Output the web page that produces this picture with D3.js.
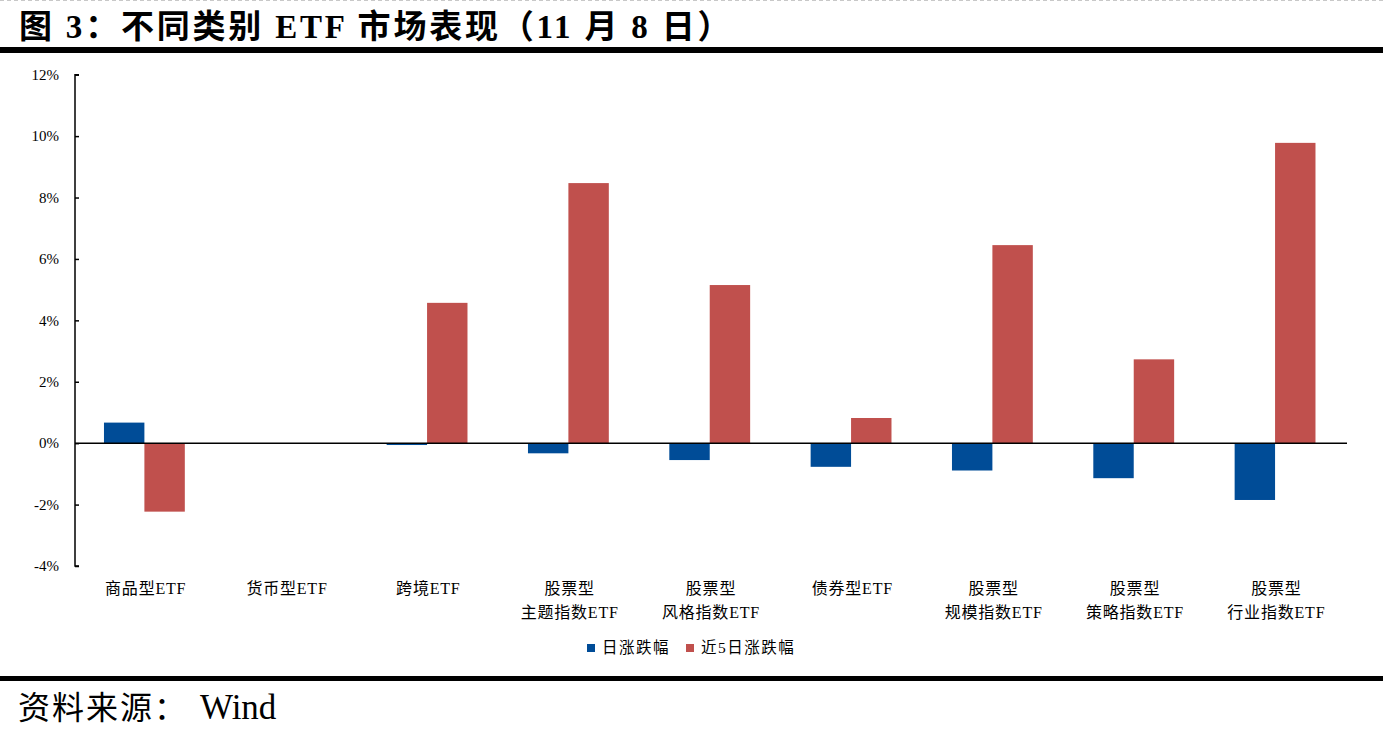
<!DOCTYPE html>
<html><head><meta charset="utf-8">
<script src="https://cdn.jsdelivr.net/npm/d3@7/dist/d3.min.js"></script>
<style>
html,body{margin:0;padding:0;background:#fff;}
svg{display:block;}
</style></head>
<body><svg id="c" width="1383" height="730"></svg>
<script>
const categories = [
  ["商品型ETF"], ["货币型ETF"], ["跨境ETF"],
  ["股票型","主题指数ETF"], ["股票型","风格指数ETF"], ["债券型ETF"],
  ["股票型","规模指数ETF"], ["股票型","策略指数ETF"], ["股票型","行业指数ETF"]
];
const seriesNames = ["日涨跌幅", "近5日涨跌幅"];
const dailyChange = [0.67, 0.0, -0.06, -0.33, -0.55, -0.77, -0.89, -1.14, -1.85];
const fiveDayChange = [-2.23, 0.0, 4.57, 8.47, 5.15, 0.82, 6.45, 2.73, 9.78];
const yTicks = [-4, -2, 0, 2, 4, 6, 8, 10, 12];
const colors = ["#004C97", "#C0504D"];

(function(){
const svg = d3.select("#c");
const pl = 75, pr = 1347, pt = 74.7, pb = 566;
const keys = categories.map((c, i) => i);
const ff = "'Liberation Serif','Noto Sans CJK SC',serif";

const x0 = d3.scaleBand().domain(keys).range([pl, pr]).paddingInner(0).paddingOuter(0);
const bw = x0.bandwidth();
const x1 = d3.scaleBand().domain([0, 1]).range([bw * 0.205, bw * 0.777]);
const y = d3.scaleLinear().domain([-4, 12]).range([pb, pt]);

svg.append("line").attr("x1", 0).attr("x2", 1383).attr("y1", 0.5).attr("y2", 0.5)
  .attr("stroke", "#c8c8c8").attr("stroke-dasharray", "4,3");

svg.append("text").attr("x", 19).attr("y", 38)
  .attr("font-family", ff)
  .attr("font-weight", "bold").attr("font-size", 33).attr("fill", "#000")
  .attr("letter-spacing", 2.8)
  .text("图 3：不同类别 ETF 市场表现（11 月 8 日）");
svg.append("rect").attr("x", 0).attr("y", 47).attr("width", 1383).attr("height", 6).attr("fill", "#000");

const data = keys.map(i => [dailyChange[i], fiveDayChange[i]]);
const g = svg.append("g");
g.selectAll("g.cat").data(data).join("g").attr("class", "cat")
  .attr("transform", (d, i) => `translate(${x0(i)},0)`)
  .selectAll("rect").data(d => d.map((v, s) => ({v, s}))).join("rect")
  .attr("x", d => x1(d.s))
  .attr("width", x1.bandwidth())
  .attr("y", d => y(Math.max(0, d.v)))
  .attr("height", d => Math.abs(y(d.v) - y(0)))
  .attr("fill", d => colors[d.s]);

const yAxis = d3.axisLeft(y).tickValues(yTicks).tickSize(-4).tickPadding(16)
  .tickFormat(d => d + "%");
const ya = svg.append("g").attr("transform", `translate(${pl},0)`).call(yAxis);
ya.select(".domain").attr("stroke", "#000").attr("stroke-width", 1.5).attr("d", `M4,${pt}H0V${pb}H4`);
ya.selectAll(".tick line").attr("stroke", "#000").attr("stroke-width", 1.5);
ya.selectAll(".tick text").attr("font-family", "'Liberation Serif',serif").attr("font-size", 15).attr("fill", "#000");

svg.append("line").attr("x1", pl).attr("x2", pr).attr("y1", y(0)).attr("y2", y(0))
  .attr("stroke", "#000").attr("stroke-width", 1.5);

const xl = svg.append("g");
categories.forEach((lines, i) => {
  const cx = x0(i) + bw / 2;
  const t = xl.append("text").attr("text-anchor", "middle")
    .attr("font-family", ff).attr("letter-spacing", 0.8)
    .attr("font-size", 16).attr("fill", "#000");
  lines.forEach((ln, k) => {
    t.append("tspan").attr("x", cx).attr("y", 594 + k * 24).text(ln);
  });
});

const lg = svg.append("g").attr("font-family", ff)
  .attr("font-size", 15.5).attr("fill", "#000").attr("letter-spacing", 1.5);
const legendX = [587, 686];
seriesNames.forEach((n, s) => {
  lg.append("rect").attr("x", legendX[s]).attr("y", 644).attr("width", 8).attr("height", 8).attr("fill", colors[s]);
  lg.append("text").attr("x", legendX[s] + 15).attr("y", 653).text(n);
});

svg.append("rect").attr("x", 0).attr("y", 676).attr("width", 1383).attr("height", 5).attr("fill", "#000");
const src = svg.append("text").attr("x", 18).attr("y", 719)
  .attr("font-family", ff).attr("fill", "#000");
src.append("tspan").attr("font-size", 32).attr("letter-spacing", 2).text("资料来源：");
src.append("tspan").attr("x", 200).attr("font-size", 35).text("Wind");
})();
</script></body></html>
